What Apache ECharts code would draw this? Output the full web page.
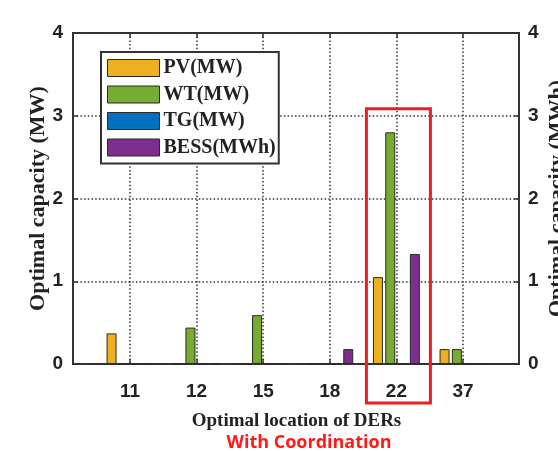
<!DOCTYPE html>
<html>
<head>
<meta charset="utf-8">
<script src="https://cdn.jsdelivr.net/npm/echarts@6/dist/echarts.min.js"></script>
<style>
html,body{margin:0;padding:0;background:#fff;}
#c{width:558px;height:451px;}
</style>
</head>
<body>
<div id="c"></div>
<script>
const categories = ['11', '12', '15', '18', '22', '37'];
const pv   = [0.37, 0, 0, 0, 1.05, 0.18];
const wt   = [0, 0.44, 0.59, 0, 2.80, 0.18];
const tg   = [0, 0, 0, 0, 0, 0];
const bess = [0, 0, 0, 0.18, 1.33, 0];
const yTicks = [0, 1, 2, 3, 4];
const seriesNames = ['PV(MW)', 'WT(MW)', 'TG(MW)', 'BESS(MWh)'];
const seriesColors = ['#EDB120', '#77AC30', '#0072BD', '#7E2F8E'];
const highlightCategory = '22';
const subtitle = 'With Coordination';

const chart = echarts.init(document.getElementById('c'));
const serif = '"Liberation Serif", "Times New Roman", serif';
const sans = '"Liberation Sans", Arial, sans-serif';
const dotted = { type: [1.5, 2.2], color: '#333', width: 1.5 };

function bar(name, data, color) {
  return {
    name: name, type: 'bar', xAxisIndex: 1, yAxisIndex: 2,
    data: data, barWidth: 10, barGap: '23%',
    itemStyle: { color: color, borderColor: '#2a2a2a', borderWidth: 1 },
    z: 5
  };
}

const option = {
  backgroundColor: '#fff',
  animation: false,
  grid: [
    { left: 73, top: 33, width: 446, height: 331, show: true, borderColor: '#333', borderWidth: 2, backgroundColor: '#fff', outerBoundsMode: 'none' },
    { left: 130, top: 33, width: 333, height: 331, outerBoundsMode: 'none' }
  ],
  legend: {
    data: seriesNames,
    icon: 'rect',
    orient: 'vertical',
    left: 101, top: 52,
    itemWidth: 52, itemHeight: 17, itemGap: 6.5,
    padding: [6, 3, 6, 6],
    borderColor: '#333', borderWidth: 2, backgroundColor: '#fff',
    textStyle: { fontFamily: serif, fontWeight: 'bold', fontSize: 20, color: '#222', padding: [0, 0, 0, -1] },
    itemStyle: { borderColor: '#2a2a2a', borderWidth: 1 },
    z: 20
  },
  xAxis: [
    { type: 'value', gridIndex: 0, min: 0, max: 1, show: false },
    {
      type: 'category', gridIndex: 1, data: categories, boundaryGap: false,
      position: 'bottom',
      name: 'Optimal location of DERs', nameLocation: 'middle', nameGap: 48,
      nameTextStyle: { fontFamily: serif, fontWeight: 'bold', fontSize: 19, color: '#222' },
      axisLine: { show: false },
      axisTick: { show: true, inside: true, length: 5, lineStyle: { color: '#333', width: 1.5 } },
      axisLabel: { fontFamily: sans, fontWeight: 'bold', fontSize: 19, color: '#222', margin: 18 },
      splitLine: { show: true, lineStyle: dotted }
    },
    {
      type: 'category', gridIndex: 1, data: categories, boundaryGap: false,
      position: 'top',
      axisLine: { show: false },
      axisTick: { show: true, inside: true, length: 5, lineStyle: { color: '#333', width: 1.5 } },
      axisLabel: { show: false }, splitLine: { show: false }
    }
  ],
  yAxis: [
    {
      type: 'value', gridIndex: 0, min: yTicks[0], max: yTicks[yTicks.length - 1], interval: 1,
      position: 'left',
      name: 'Optimal capacity (MW)', nameLocation: 'middle', nameGap: 24, nameRotate: 90,
      nameMoveOverlap: false,
      nameTextStyle: { fontFamily: serif, fontWeight: 'bold', fontSize: 22, color: '#222' },
      axisLine: { show: false },
      axisTick: { show: true, inside: true, length: 5, lineStyle: { color: '#333', width: 1.5 } },
      axisLabel: { fontFamily: sans, fontWeight: 'bold', fontSize: 19, color: '#222', margin: 10 },
      splitLine: { show: true, lineStyle: dotted }
    },
    {
      type: 'value', gridIndex: 0, min: yTicks[0], max: yTicks[yTicks.length - 1], interval: 1,
      position: 'right',
      name: 'Optimal capacity (MWh)', nameLocation: 'middle', nameGap: 27, nameRotate: 90,
      nameMoveOverlap: false,
      nameTextStyle: { fontFamily: serif, fontWeight: 'bold', fontSize: 22, color: '#222' },
      axisLine: { show: false },
      axisTick: { show: true, inside: true, length: 5, lineStyle: { color: '#333', width: 1.5 } },
      axisLabel: { fontFamily: sans, fontWeight: 'bold', fontSize: 19, color: '#222', margin: 9 },
      splitLine: { show: false }
    },
    { type: 'value', gridIndex: 1, min: yTicks[0], max: yTicks[yTicks.length - 1], interval: 1, show: false }
  ],
  series: [
    bar(seriesNames[0], pv, seriesColors[0]),
    bar(seriesNames[1], wt, seriesColors[1]),
    bar(seriesNames[2], tg, seriesColors[2]),
    bar(seriesNames[3], bess, seriesColors[3])
  ]
};
chart.setOption(option);

// red highlight box around the highlighted category, and the caption
const cx = chart.convertToPixel({ xAxisIndex: 1 }, highlightCategory);
const yTop = chart.convertToPixel({ yAxisIndex: 2 }, 3) - 7;
chart.setOption({
  graphic: [{
    type: 'rect', z: 30,
    shape: { x: cx - 30, y: yTop, width: 64, height: 403 - yTop },
    style: { fill: 'none', stroke: '#EE1C25', lineWidth: 3 }
  }, {
    type: 'text', z: 30, x: 309, y: 443,
    style: {
      text: subtitle, align: 'center', verticalAlign: 'middle',
      font: 'bold 18px "Open Sans", sans-serif', fill: '#FF1A1A'
    }
  }]
});
</script>
</body>
</html>
